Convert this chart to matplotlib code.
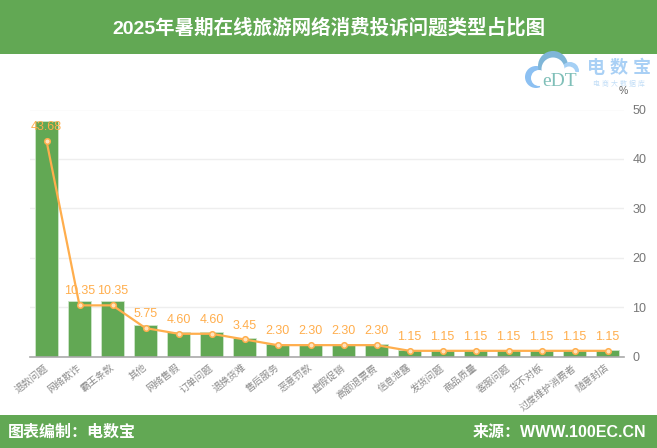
import matplotlib
matplotlib.use("Agg")
import matplotlib.pyplot as plt
from matplotlib.patches import Circle, Rectangle

plt.rcParams['font.family'] = ['Liberation Sans', 'Noto Sans CJK SC', 'DejaVu Sans']

categories = ["退款问题", "网络欺诈", "霸王条款", "其他", "网络售假", "订单问题", "退换货难",
              "售后服务", "恶意罚款", "虚假促销", "高额退票费", "信息泄露", "发货问题",
              "商品质量", "客服问题", "货不对板", "过度维护消费者", "随意封店"]
bar_values = [47.7, 11.3, 11.3, 6.3, 5.0, 5.0, 3.8, 2.5, 2.5, 2.5, 2.5,
              1.25, 1.25, 1.25, 1.25, 1.25, 1.25, 1.25]
line_values = [43.68, 10.35, 10.35, 5.75, 4.60, 4.60, 3.45, 2.30, 2.30, 2.30, 2.30,
               1.15, 1.15, 1.15, 1.15, 1.15, 1.15, 1.15]
y_ticks = [0, 10, 20, 30, 40, 50]

W, H = 657, 448
GREEN = "#62a854"
ORANGE = "#ffae4d"

fig = plt.figure(figsize=(W / 100, H / 100), dpi=100)

# pixel overlay for the banners and logo
bg = fig.add_axes([0, 0, 1, 1])
bg.set_xlim(0, W)
bg.set_ylim(H, 0)
bg.axis("off")
bg.add_patch(Rectangle((0, 0), W, 54.5, color=GREEN, lw=0))
bg.add_patch(Rectangle((0, 415), W, 33, color=GREEN, lw=0))
bg.text(W / 2 + 0.5, 28, "2025年暑期在线旅游网络消费投诉问题类型占比图", color="white",
        fontsize=14, fontweight="bold", ha="center", va="center")
bg.text(8, 432, "图表编制：电数宝", color="white", fontsize=11.5, fontweight="bold", va="center")
bg.text(646, 432, "来源：WWW.100EC.CN", color="white", fontsize=11.5, fontweight="bold",
        ha="right", va="center")

# logo, cloud ring then white inside
for cx, cy, r, c in [(536, 77, 11, "#8cc0f2"), (553, 66, 15, "#7fb6d8"), (570, 71, 9, "#a5d0f5")]:
    bg.add_patch(Circle((cx, cy), r, color=c, lw=0))
for cx, cy, r in [(539, 78, 8), (553, 69, 11.5), (569, 73, 6.5)]:
    bg.add_patch(Circle((cx, cy), r, color="white", lw=0))
bg.add_patch(Rectangle((540, 72), 40, 19, color="white", lw=0))
bg.text(560, 81, "eDT", color="#7fbfb8", fontsize=14, family="Liberation Serif",
        ha="center", va="center")
bg.text(619, 68, "电 数 宝", color="#a9d0f5", fontsize=13, fontweight="bold", ha="center", va="center")
bg.text(619, 84, "电 商 大 数 据 库", color="#c3def7", fontsize=5, ha="center", va="center")
bg.text(623, 91, "%", color="#666666", fontsize=7.5, ha="center", va="center")

ax = fig.add_axes([30 / W, 1 - 356.5 / H, 594 / W, 247 / H])
ax.patch.set_alpha(0)
x = list(range(len(categories)))
ax.bar(x, bar_values, width=0.68, color=GREEN, edgecolor="#cfe5ca", lw=0.6, zorder=2)
ax.plot(x, line_values, color=ORANGE, lw=1.6, marker="o", ms=4, mfc="#ffe3bd",
        mec=ORANGE, mew=1.1, zorder=3)
for i, v in enumerate(line_values):
    ax.annotate(f"{v:.2f}", (i, v), xytext=(0, 10), textcoords="offset points",
                ha="center", va="center", color=ORANGE, fontsize=9, zorder=4)

ax.set_xlim(-0.5, len(categories) - 0.5)
ax.set_ylim(0, 50)
ax.set_xticks(x)
ax.set_xticklabels(categories, rotation=38, ha="right", va="center", rotation_mode="anchor",
                   fontsize=7, color="#8a8a8a")
ax.yaxis.tick_right()
ax.set_yticks(y_ticks)
ax.tick_params(axis="x", length=0, pad=7)
ax.tick_params(axis="y", length=0, pad=6, labelsize=9, labelcolor="#777777")
ax.grid(axis="y", color="#eeeeee", lw=1, zorder=0)
for s in ["top", "left", "right"]:
    ax.spines[s].set_visible(False)
ax.spines["bottom"].set_color("#aaaaaa")
ax.spines["bottom"].set_linewidth(1.2)

fig.savefig("out.png", dpi=100)
